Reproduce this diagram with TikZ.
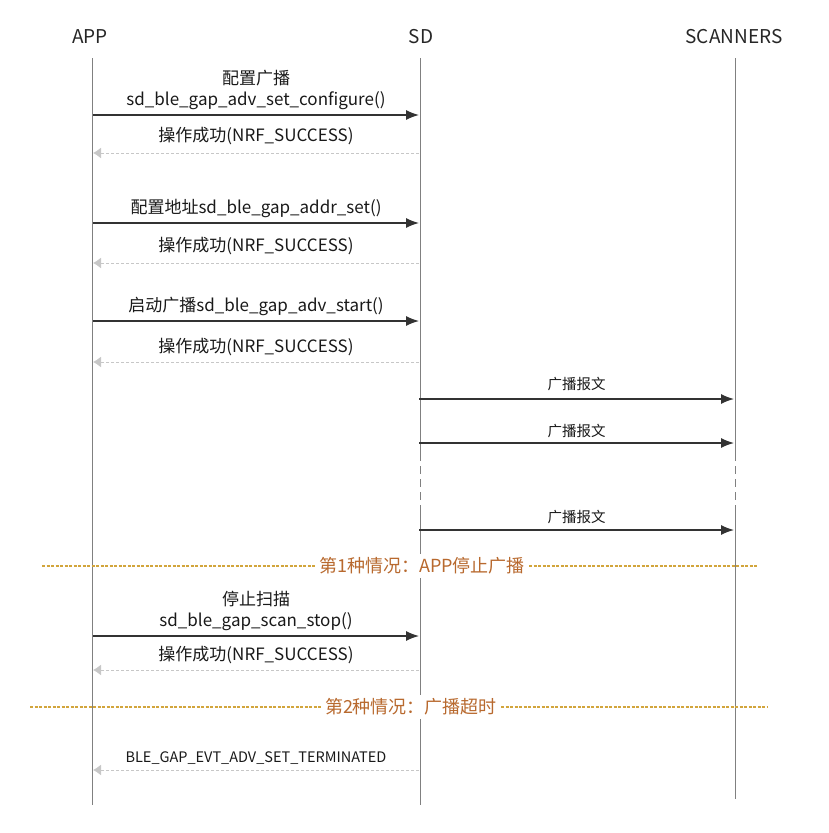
\documentclass[tikz,border=0pt]{standalone}
\usepackage{fontspec}
\setmainfont{Noto Sans CJK SC}
\definecolor{caseline}{HTML}{D2A53C}
\definecolor{casetext}{HTML}{B8692E}
\usetikzlibrary{arrows.meta,positioning}
\tikzset{>=latex}

\begin{document}
\begin{tikzpicture}[x=1pt,y=-1pt,
  head/.style={font=\fontsize{19}{22}\selectfont,text=black!85},
  life/.style={draw=black!50,line width=0.9pt},
  lifebreak/.style={life,dash pattern=on 8pt off 5pt},
  call/.style={-{Latex[length=13pt,width=10pt]},draw=black!80,line width=1.3pt},
  reply/.style={-{Latex[length=8pt,width=11pt]},draw=black!22,line width=1pt,dash pattern=on 3pt off 2pt},
  msg/.style={font=\fontsize{17}{21}\selectfont,text=black!90,inner sep=2pt,align=center},
  adv/.style={font=\fontsize{14.5}{17}\selectfont,text=black!90,inner sep=3pt},
  casebox/.style={font=\fontsize{18}{21}\selectfont,text=casetext,fill=white,inner sep=4pt},
  caseln/.style={draw=caseline,line width=1.2pt,dash pattern=on 3pt off 1.5pt}]
\useasboundingbox (0,0) rectangle (828,833);

% lifelines
\node[head] (app) at (90,37) {APP};
\node[head] (sd) at (421,37) {SD};
\node[head] (scan) at (734,37) {SCANNERS};
\coordinate (appT) at (92,58);  \coordinate (appB) at (92,805);
\coordinate (sdT) at (420,58);  \coordinate (sdB) at (420,805);
\coordinate (scanT) at (735,58); \coordinate (scanB) at (735,799);
\coordinate (sdG1) at (420,453); \coordinate (sdG2) at (420,507);
\coordinate (scanG1) at (735,453); \coordinate (scanG2) at (735,507);
\draw[life] (appT) -- (appB);
\draw[life] (sdT) -- (sdG1);
\draw[lifebreak] (sdG1) -- (sdG2);
\draw[life] (sdG2) -- (sdB);
\draw[life] (scanT) -- (scanG1);
\draw[lifebreak] (scanG1) -- (scanG2);
\draw[life] (scanG2) -- (scanB);

% message rows
\foreach \n/\y in {1/115,2/153,3/223,4/263,5/321,6/362,7/399,8/443,9/530,10/636,11/670,12/770} {
  \coordinate (a\n) at (93,\y);
  \coordinate (s\n) at (419,\y);
  \coordinate (c\n) at (734,\y);
}

\draw[call] (a1) -- node[msg,above=3pt] {配置广播\\sd\_ble\_gap\_adv\_set\_configure()} (s1);
\draw[reply] (s2) -- node[msg,above=6pt] {操作成功(NRF\_SUCCESS)} (a2);
\draw[call] (a3) -- node[msg,above=3pt] {配置地址sd\_ble\_gap\_addr\_set()} (s3);
\draw[reply] (s4) -- node[msg,above=6pt] {操作成功(NRF\_SUCCESS)} (a4);
\draw[call] (a5) -- node[msg,above=3pt] {启动广播sd\_ble\_gap\_adv\_start()} (s5);
\draw[reply] (s6) -- node[msg,above=4pt] {操作成功(NRF\_SUCCESS)} (a6);

\draw[call] (s7) -- node[adv,above=5pt] {广播报文} (c7);
\draw[call] (s8) -- node[adv,above=2pt] {广播报文} (c8);
\draw[call] (s9) -- node[adv,above=3pt] {广播报文} (c9);

% case 1
\node[casebox] (case1) at (422,566) {第1种情况：APP停止广播};
\coordinate (case1L) at (42,566); \coordinate (case1R) at (757,566);
\draw[caseln] (case1L) -- (case1);
\draw[caseln] (case1) -- (case1R);

\draw[call] (a10) -- node[msg,above=3pt] {停止扫描\\sd\_ble\_gap\_scan\_stop()} (s10);
\draw[reply] (s11) -- node[msg,above=4pt] {操作成功(NRF\_SUCCESS)} (a11);

% case 2
\node[casebox] (case2) at (411,707) {第2种情况：广播超时};
\coordinate (case2L) at (30,707); \coordinate (case2R) at (768,707);
\draw[caseln] (case2L) -- (case2);
\draw[caseln] (case2) -- (case2R);

\draw[reply] (s12) -- node[adv,above=2pt] {BLE\_GAP\_EVT\_ADV\_SET\_TERMINATED} (a12);
\end{tikzpicture}
\end{document}
